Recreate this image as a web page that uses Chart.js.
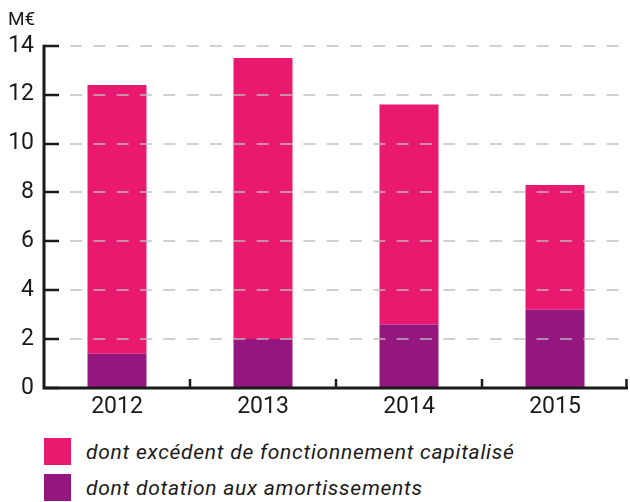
<!DOCTYPE html>
<html>
<head>
<meta charset="utf-8">
<script src="https://cdn.jsdelivr.net/npm/chart.js@4/dist/chart.umd.min.js"></script>
<style>
  body { margin: 0; background: #fff; }
  #wrap { width: 630px; height: 502px; position: relative; }
  #legend { position: absolute; left: 44px; top: 438px; font-family: Roboto, sans-serif; font-style: italic; font-size: 21px; letter-spacing: 0.75px; color: #1a1a1a; }
  .item { display: flex; align-items: center; height: 27px; margin-bottom: 9px; }
  .box { width: 27px; height: 27px; margin-right: 15px; }
</style>
</head>
<body>
<div id="wrap">
  <canvas id="graph" width="630" height="420"></canvas>
  <div id="legend"></div>
</div>
<script>
const canva = document.getElementById('graph');

const years = ['2012', '2013', '2014', '2015'];
const dotation = [1.4, 2.0, 2.6, 3.2];
const excedent = [11.0, 11.5, 9.0, 5.1];
const yMax = 14;
const yStep = 2;

const pink = '#e8196f';
const purple = '#94177f';
const ink = '#1a1a1a';

// dashed grid over the bars, then axis lines and inner tick marks
const axisLines = {
  id: 'axisLines',
  afterDatasetsDraw(chart) {
    const {ctx, chartArea: a, scales: {y}} = chart;
    ctx.save();
    ctx.strokeStyle = 'rgba(190,190,190,0.7)';
    ctx.lineWidth = 2;
    ctx.setLineDash([12, 11.33]);
    ctx.lineDashOffset = 20.67;
    y.ticks.forEach(t => {
      if (t.value === 0) return;
      const py = Math.round(y.getPixelForValue(t.value));
      ctx.beginPath();
      ctx.moveTo(a.left, py);
      ctx.lineTo(a.right, py);
      ctx.stroke();
    });
    ctx.restore();
  },
  afterDraw(chart) {
    const {ctx, chartArea: a, scales: {x, y}} = chart;
    ctx.save();
    ctx.strokeStyle = ink;
    ctx.lineWidth = 2.5;
    y.ticks.forEach(t => {
      const py = Math.round(y.getPixelForValue(t.value));
      ctx.beginPath();
      ctx.moveTo(a.left, py);
      ctx.lineTo(a.left + 15, py);
      ctx.stroke();
    });
    const half = (x.getPixelForValue(1) - x.getPixelForValue(0)) / 2;
    for (let i = 0; i < years.length; i++) {
      const px = Math.min(x.getPixelForValue(i) + half, a.right - 1.5);
      ctx.beginPath();
      ctx.moveTo(px, a.bottom);
      ctx.lineTo(px, a.bottom - 9);
      ctx.stroke();
    }
    ctx.lineWidth = 3;
    ctx.beginPath();
    ctx.moveTo(a.left, a.top - 1);
    ctx.lineTo(a.left, a.bottom);
    ctx.lineTo(a.right, a.bottom);
    ctx.stroke();
    ctx.restore();
  }
};

const data = {
  labels: years,
  datasets: [{
    label: 'dont dotation aux amortissements',
    backgroundColor: purple,
    data: dotation,
  }, {
    label: 'dont excédent de fonctionnement capitalisé',
    backgroundColor: pink,
    data: excedent,
  }]
};

const config = {
  type: 'bar',
  data,
  options: {
    responsive: false,
    animation: false,
    devicePixelRatio: 1,
    layout: { padding: { left: 8, right: 2, top: 0, bottom: 2 } },
    datasets: { bar: { barPercentage: 0.404, categoryPercentage: 1 } },
    plugins: {
      legend: { display: false },
      tooltip: { enabled: false },
      title: {
        display: true,
        text: 'M€',
        align: 'start',
        color: ink,
        font: { family: 'Roboto', size: 19, weight: 'normal' },
        padding: { top: 9, bottom: 14 }
      }
    },
    scales: {
      x: {
        stacked: true,
        afterFit(scale) { scale.height = 30; },
        grid: { display: false, drawTicks: false },
        border: { display: false },
        ticks: { color: ink, padding: 5, font: { family: 'Roboto', size: 23 } }
      },
      y: {
        stacked: true,
        min: 0,
        max: yMax,
        afterFit(scale) { scale.width = 36; },
        border: { display: false },
        grid: { display: false, drawTicks: false },
        ticks: { stepSize: yStep, color: ink, padding: 10, font: { family: 'Roboto', size: 23 } }
      }
    }
  },
  plugins: [axisLines]
};

var chart = new Chart(canva, config);

// legend in the same order as the original (top series first)
const legend = document.getElementById('legend');
chart.data.datasets.slice().reverse().forEach(ds => {
  const row = document.createElement('div');
  row.className = 'item';
  const box = document.createElement('span');
  box.className = 'box';
  box.style.background = ds.backgroundColor;
  const txt = document.createElement('span');
  txt.textContent = ds.label;
  row.appendChild(box);
  row.appendChild(txt);
  legend.appendChild(row);
});
</script>
</body>
</html>
